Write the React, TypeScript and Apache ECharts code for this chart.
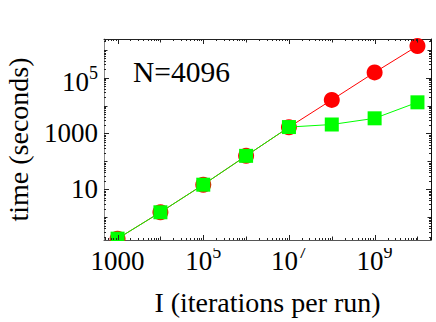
import React, { useEffect, useRef } from 'react';
import * as echarts from 'echarts';

// ---- data ----
const ITERATIONS = [1e3, 1e4, 1e5, 1e6, 1e7, 1e8, 1e9, 1e10];
const TIME_RED = [0.17, 1.5, 14.6, 158, 1680, 16000, 155000, 1370000];
const TIME_GREEN = [0.17, 1.5, 14.6, 158, 1700, 2100, 3500, 13100];

const X_TICK_VALUES = [1e3, 1e5, 1e7, 1e9];
const X_TICK_LABELS = ['1000', '10^5', '10^7', '10^9'];
const Y_TICK_VALUES = [10, 1000, 1e5];
const Y_TICK_LABELS = ['10', '1000', '10^5'];

const X_MIN = 482;
const X_MAX = 2.07e10;
const Y_MIN = 0.152;
const Y_MAX = 2.44e6;

const X_TITLE = 'I (iterations per run)';
const Y_TITLE = 'time (seconds)';
const ANNOTATION = 'N=4096';

const FONT = '"Liberation Serif", "Times New Roman", Times, serif';

function richLabel(label: string, base: string): string {
  const parts = label.split('^');
  if (parts.length > 1) return `{bp|${parts[0]}}{s|${parts[1]}}`;
  return `{${base}|${parts[0]}}`;
}

function labelFor(values: number[], labels: string[], v: number, base: string): string {
  for (let i = 0; i < values.length; i++) {
    if (Math.abs(Math.log10(v) - Math.log10(values[i])) < 1e-6) return richLabel(labels[i], base);
  }
  return '';
}

function tickList(min: number, max: number, majors: number[]): number[][] {
  const out: number[][] = [];
  const k0 = Math.floor(Math.log10(min));
  const k1 = Math.ceil(Math.log10(max));
  for (let k = k0; k <= k1; k++) {
    for (let m = 1; m <= 9; m++) {
      const v = m * Math.pow(10, k);
      if (v < min || v > max) continue;
      const isMajor = majors.some((t) => Math.abs(t - v) / t < 1e-9);
      out.push([v, isMajor ? 5 : m === 1 ? 3.5 : 2]);
    }
  }
  return out;
}

const rich: any = {
  b: { fontFamily: FONT, fontSize: 27, lineHeight: 28, height: 27, color: '#000', verticalAlign: 'middle' },
  bp: { fontFamily: FONT, fontSize: 27, lineHeight: 35, height: 27, color: '#000', verticalAlign: 'bottom' },
  s: { fontFamily: FONT, fontSize: 18, lineHeight: 18, height: 25, color: '#000', verticalAlign: 'top' },
};

export default function App() {
  const ref = useRef<HTMLDivElement>(null);

  useEffect(() => {
    if (!ref.current) return;
    const chart = echarts.init(ref.current, null, { renderer: 'svg' });

    const xTicks = tickList(X_MIN, X_MAX, X_TICK_VALUES).map(([v, len]) => [v, Y_MIN, len]);
    const yTicks = tickList(Y_MIN, Y_MAX, Y_TICK_VALUES).map(([v, len]) => [X_MIN, v, len]);
    const TICK_COLOR = '#222';

    const option: any = {
      animation: false,
      backgroundColor: '#fff',
      textStyle: { fontFamily: FONT },
      title: {
        text: ANNOTATION,
        left: 133,
        top: 57,
        padding: 0,
        textStyle: { fontFamily: FONT, fontSize: 29.5, fontWeight: 'normal', color: '#000' },
      },
      grid: { left: 104, top: 39, width: 327, height: 201, containLabel: false, outerBoundsMode: 'none' },
      xAxis: [
        {
          type: 'log',
          logBase: 10,
          min: X_MIN,
          max: X_MAX,
          position: 'bottom',
          axisLine: { show: true, lineStyle: { color: '#555', width: 1 } },
          axisTick: { show: false },
          minorTick: { show: false },
          splitLine: { show: false },
          minorSplitLine: { show: false },
          axisLabel: {
            show: true,
            margin: -1,
            hideOverlap: false,
            showMinLabel: true,
            showMaxLabel: true,
            fontFamily: FONT,
            fontSize: 27,
            color: '#000',
            formatter: (v: number) => labelFor(X_TICK_VALUES, X_TICK_LABELS, v, 'bp'),
            rich,
          },
          name: X_TITLE,
          nameLocation: 'middle',
          nameGap: 48,
          nameTextStyle: { fontFamily: FONT, fontSize: 28, color: '#000' },
        },
        {
          type: 'log',
          logBase: 10,
          min: X_MIN,
          max: X_MAX,
          position: 'top',
          axisLine: { show: true, lineStyle: { color: '#222', width: 1 } },
          axisTick: { show: false },
          axisLabel: { show: false },
          splitLine: { show: false },
        },
      ],
      yAxis: [
        {
          type: 'log',
          logBase: 10,
          min: Y_MIN,
          max: Y_MAX,
          position: 'left',
          axisLine: { show: true, lineStyle: { color: '#8a8a8a', width: 1 } },
          axisTick: { show: false },
          minorTick: { show: false },
          splitLine: { show: false },
          minorSplitLine: { show: false },
          axisLabel: {
            show: true,
            margin: 6,
            hideOverlap: false,
            showMinLabel: true,
            showMaxLabel: true,
            fontFamily: FONT,
            fontSize: 27,
            color: '#000',
            formatter: (v: number) => labelFor(Y_TICK_VALUES, Y_TICK_LABELS, v, 'b'),
            rich,
          },
          name: Y_TITLE,
          nameLocation: 'middle',
          nameRotate: 90,
          nameGap: 72,
          nameTextStyle: { fontFamily: FONT, fontSize: 28, color: '#000' },
        },
        {
          type: 'log',
          logBase: 10,
          min: Y_MIN,
          max: Y_MAX,
          position: 'right',
          axisLine: { show: true, lineStyle: { color: '#111', width: 1 } },
          axisTick: { show: false },
          axisLabel: { show: false },
          splitLine: { show: false },
        },
      ],
      graphic: [
        {
          type: 'rect',
          left: 100,
          top: 241,
          shape: { width: 336, height: 7 },
          style: { fill: '#fff' },
          z: 100,
          silent: true,
        },
      ],
      series: [
        {
          type: 'custom',
          silent: true,
          z: 5,
          dimensions: ['x', 'y', 'len'],
          encode: { x: 0, y: 1 },
          data: xTicks,
          renderItem: (params: any, api: any) => {
            const v = api.value(0);
            const len = api.value(2);
            const b = api.coord([v, Y_MIN]);
            const t = api.coord([v, Y_MAX]);
            const x = Math.round(b[0]) + 0.5;
            return {
              type: 'group',
              children: [
                { type: 'line', shape: { x1: x, y1: b[1], x2: x, y2: b[1] - len }, style: { stroke: TICK_COLOR, lineWidth: 1 } },
                { type: 'line', shape: { x1: x, y1: t[1], x2: x, y2: t[1] + len }, style: { stroke: TICK_COLOR, lineWidth: 1 } },
              ],
            };
          },
        },
        {
          type: 'custom',
          silent: true,
          z: 5,
          dimensions: ['x', 'y', 'len'],
          encode: { x: 0, y: 1 },
          data: yTicks,
          renderItem: (params: any, api: any) => {
            const v = api.value(1);
            const len = api.value(2);
            const l = api.coord([X_MIN, v]);
            const r = api.coord([X_MAX, v]);
            const y = Math.round(l[1]) + 0.5;
            return {
              type: 'group',
              children: [
                { type: 'line', shape: { x1: l[0], y1: y, x2: l[0] + len, y2: y }, style: { stroke: TICK_COLOR, lineWidth: 1 } },
                { type: 'line', shape: { x1: r[0], y1: y, x2: r[0] - len, y2: y }, style: { stroke: TICK_COLOR, lineWidth: 1 } },
              ],
            };
          },
        },
        {
          name: 'red',
          type: 'line',
          data: ITERATIONS.map((x, i) => [x, TIME_RED[i]]),
          symbol: 'circle',
          symbolSize: 16,
          itemStyle: { color: '#ff0000' },
          lineStyle: { color: '#ff0000', width: 1 },
          z: 3,
        },
        {
          name: 'green',
          type: 'line',
          data: ITERATIONS.map((x, i) => [x, TIME_GREEN[i]]),
          symbol: 'rect',
          symbolSize: 14,
          itemStyle: { color: '#00ff00' },
          lineStyle: { color: '#00ff00', width: 1 },
          z: 4,
        },
      ],
    };

    chart.setOption(option);
    return () => chart.dispose();
  }, []);

  return (
    <div
      ref={ref}
      style={{ position: 'fixed', left: 0, top: 0, width: 436, height: 322, background: '#fff' }}
    />
  );
}
